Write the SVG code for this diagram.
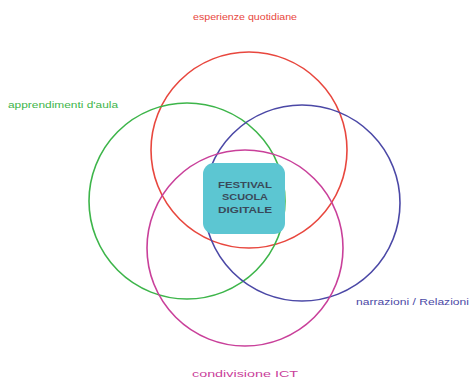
<svg xmlns="http://www.w3.org/2000/svg" width="472" height="380" viewBox="0 0 472 380">
<style>
.c{fill:none;stroke-width:1.6}
.lbl{font-family:"Liberation Sans",Arial,sans-serif;font-size:9px}
.ctr{font-family:"Liberation Sans",Arial,sans-serif;font-size:9.5px;font-weight:bold;fill:#3a4a5a}
</style>
<rect width="472" height="380" fill="#ffffff"/>
<g id="connectors"></g>
<g id="red">
<circle class="c" cx="249" cy="150" r="98" stroke="#e8473e"/>
<text class="lbl" x="193" y="20" textLength="104" lengthAdjust="spacingAndGlyphs" fill="#e8473e">esperienze quotidiane</text>
</g>
<g id="green">
<circle class="c" cx="187" cy="201" r="98" stroke="#3db54a"/>
<text class="lbl" x="8" y="108" textLength="110" lengthAdjust="spacingAndGlyphs" fill="#3db54a">apprendimenti d'aula</text>
</g>
<g id="blue">
<circle class="c" cx="302" cy="203" r="98" stroke="#4b48a6"/>
<text class="lbl" x="356" y="305" textLength="113" lengthAdjust="spacingAndGlyphs" fill="#4b48a6">narrazioni / Relazioni</text>
</g>
<g id="magenta">
<circle class="c" cx="245" cy="248" r="98" stroke="#c9409a"/>
<text class="lbl" x="192" y="377" textLength="106" lengthAdjust="spacingAndGlyphs" fill="#c9409a">condivisione ICT</text>
</g>
<g id="center">
<rect x="203" y="163" width="82" height="71" rx="11" fill="#5cc6d2"/>
<text class="ctr" x="218" y="188" textLength="54" lengthAdjust="spacingAndGlyphs">FESTIVAL</text>
<text class="ctr" x="222" y="200" textLength="46" lengthAdjust="spacingAndGlyphs">SCUOLA</text>
<text class="ctr" x="218" y="213" textLength="54" lengthAdjust="spacingAndGlyphs">DIGITALE</text>
</g>
</svg>
